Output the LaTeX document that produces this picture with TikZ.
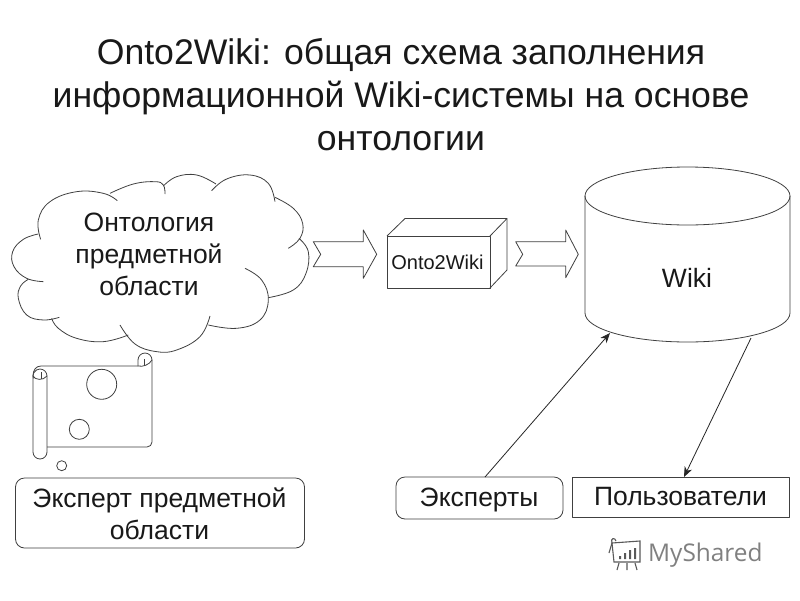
\documentclass[tikz,border=0pt]{standalone}
\usetikzlibrary{arrows.meta}
\usepackage{fontspec}
\setmainfont{Liberation Sans}
\newfontfamily\wmfont{Open Sans}
\begin{document}
\begin{tikzpicture}[x=1pt,y=-1pt,
  line/.style={draw=black!75,line width=0.8pt,line join=round},
  body/.style={font=\fontsize{26.5}{32}\selectfont,text=black!90,align=center,inner sep=0pt},
  rbox/.style={line,rounded corners=9pt,inner sep=0pt},
  arrowline/.style={draw=black!85,line width=0.8pt,-{Stealth[length=10pt,width=8pt,inset=3pt]}}]
\useasboundingbox (0,0) rectangle (800,600);
\fill[white] (0,0) rectangle (800,600);
% title
\node[font=\fontsize{35.6}{43}\selectfont,text=black!90,align=center,inner sep=0pt] (title) at (401,95)
 {Onto2Wiki: общая схема заполнения\\информационной Wiki-системы на основе\\онтологии};
% cloud
\begin{scope}[shift={(0,160)},x=0.3333pt,y=-0.3333pt]
\draw[line] plot[smooth,tension=0.7] coordinates{(122,238)(115,180)(150,125)(230,95)(310,100)(352,122)};
\draw[line] plot[smooth,tension=0.7] coordinates{(330,100)(400,72)(465,65)(490,75)(495,102)};
\draw[line] plot[smooth,tension=0.7] coordinates{(490,78)(530,50)(590,45)(648,72)};
\draw[line] plot[smooth,tension=0.7] coordinates{(635,92)(680,57)(750,45)(805,70)(825,125)};
\draw[line] plot[smooth,tension=0.7] coordinates{(825,112)(880,145)(908,190)(900,235)(865,265)};
\draw[line] plot[smooth,tension=0.7] coordinates{(897,235)(925,275)(918,340)(880,390)(805,413)};
\draw[line] plot[smooth,tension=0.7] coordinates{(735,325)(785,360)(805,420)(780,480)(710,505)(625,495)};
\draw[line] plot[smooth,tension=0.7] coordinates{(630,468)(600,530)(530,570)(470,575)(405,552)(360,495)};
\draw[line] plot[smooth,tension=0.7] coordinates{(385,525)(310,545)(230,535)(175,505)(155,475)};
\draw[line] plot[smooth,tension=0.7] coordinates{(178,472)(130,480)(80,465)(55,415)(62,378)(85,358)};
\draw[line] plot[smooth,tension=0.7] coordinates{(130,365)(80,355)(42,320)(38,275)(70,238)(115,222)};
\end{scope}
\node[body] (onto) at (149,254) {Онтология\\предметной\\области};
% scroll
\draw[line] (33,376) .. controls (33,370) and (36,366) .. (41,366) -- (138,366);
\draw[line,rounded corners=5pt] (152,360) -- (152,447) -- (47,447);
\draw[line] (138,366) -- (138,360) arc[start angle=180,end angle=360,radius=7];
\draw[line] (138,366) .. controls (143,367) and (149,365) .. (152,360);
\draw[line] (144,366) -- (144,359);
\draw[line,rounded corners=7pt] (33,376) -- (33,459) -- (47,459) -- (47,376);
\draw[line] (47,376) arc[start angle=0,end angle=-200,radius=7];
\draw[line] (33,376) .. controls (35,380) and (43,381) .. (47,376);
\draw[line] (41,379) -- (41,372);
\draw[line] (101.7,384.3) circle[radius=15];
\draw[line] (79.3,429.3) circle[radius=10];
\draw[line] (61.7,465.7) circle[radius=5];
% expert box
\draw[rbox] (15.5,478) rectangle (304.5,548);
\node[body] (expert) at (159.5,514) {Эксперт предметной\\области};
% cube
\draw[line] (387,236) rectangle (490,288);
\draw[line] (387,236) -- (405,218.5) -- (507,218.5) -- (490,236);
\draw[line] (507,218.5) -- (507,270) -- (490,288);
\node[inner sep=0pt,font=\fontsize{20}{24}\selectfont,text=black!90] (o2w) at (437.5,262) {Onto2Wiki};
% block arrows
\draw[line] (313.3,241.7) -- (363.3,241.7) -- (363.3,230) -- (376.7,254.3) -- (363.3,278.3) -- (363.3,266.7) -- (313.3,266.7) -- (320.7,254.3) -- cycle;
\draw[line] (515.7,241.7) -- (565.7,241.7) -- (565.7,230) -- (578.3,254.3) -- (565.7,277.7) -- (565.7,266) -- (515.7,266) -- (522.7,254.3) -- cycle;
% cylinder
\draw[line] (687.5,196) ellipse[x radius=102.5,y radius=29];
\draw[line] (585,196) -- (585,313) arc[start angle=180,end angle=0,x radius=102.5,y radius=29] -- (790,196);
\node[body] (wiki) at (687,278) {Wiki};
\coordinate (wikiin) at (610,333);
\coordinate (wikiout) at (751,338);
% bottom boxes
\draw[rbox] (396,477) rectangle (563,519);
\node[body] (experts) at (479,500) {Эксперты};
\node[line,body,minimum width=217pt,minimum height=40pt] (users) at (680.5,497) {Пользователи};
\coordinate (expfoot) at (485,477);
\coordinate (userhead) at (684,477);
\draw[arrowline] (expfoot) -- (wikiin);
\draw[arrowline] (wikiout) -- (userhead);
% watermark
\node[inner sep=0pt,anchor=west,font=\wmfont\fontsize{24.4}{28}\selectfont,text=black!50] (mark) at (648,555) {MyShared};
\begin{scope}[draw=black!65,line width=1.1pt]
\draw (612,543) -- (640,541) -- (640,562) -- (614,562) -- cycle;
\draw (612,543) .. controls (610,538) and (615,537) .. (616,541);
\draw (612,543) -- (609,553);
\fill[black!65] (619,556) rectangle (621,559) (624,553) rectangle (626,559) (629,550) rectangle (631,559) (634,548) rectangle (636,559);
\draw (619,563) -- (617,570) (627,563) -- (627,570) (635,563) -- (637,570);
\end{scope}
\end{tikzpicture}
\end{document}
